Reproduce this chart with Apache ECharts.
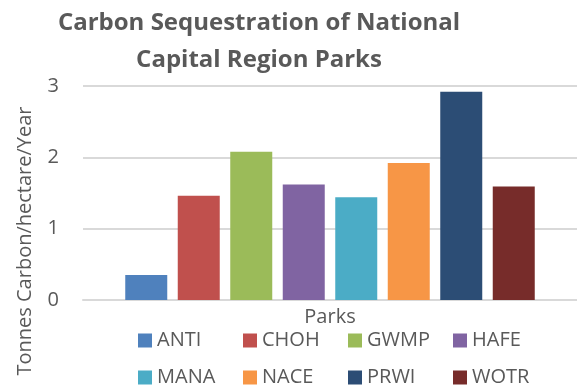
<!DOCTYPE html>
<html>
<head>
<meta charset="utf-8">
<script src="https://cdn.jsdelivr.net/npm/echarts@6/dist/echarts.min.js"></script>
<style>html,body{margin:0;padding:0;background:#fff;}#c{width:577px;height:385px;}</style>
</head>
<body>
<div id="c"></div>
<script>
const categories = ['Parks'];
const parks = ['ANTI', 'CHOH', 'GWMP', 'HAFE', 'MANA', 'NACE', 'PRWI', 'WOTR'];
const values = [0.35, 1.46, 2.08, 1.62, 1.44, 1.92, 2.92, 1.59];
const colors = ['#4f81bd', '#c0504d', '#9bbb59', '#8064a2', '#4bacc6', '#f79646', '#2c4d75', '#772c2a'];
const yTicks = [0, 1, 2, 3];
const titleLines = ['Carbon Sequestration of National', 'Capital Region Parks'];
const yTitle = 'Tonnes Carbon/hectare/Year';

const FONT = 'Open Sans';
const GRAY = '#595959';
const chart = echarts.init(document.getElementById('c'), null, {renderer: 'canvas'});
chart.setOption({
  animation: false,
  backgroundColor: '#fff',
  textStyle: {fontFamily: FONT},
  graphic: [
    {type: 'text', position: [259, 5], style: {text: titleLines.join('\n'), fontFamily: FONT, fontWeight: 'bold', fontSize: 24, lineHeight: 37, fill: GRAY, textAlign: 'center'}},
    {type: 'text', rotation: Math.PI / 2, position: [25, 241], style: {text: yTitle, fontFamily: FONT, fontSize: 20, fill: GRAY, textAlign: 'center', textVerticalAlign: 'middle'}}
  ],
  legend: {
    data: parks,
    left: 138, top: 330, width: 430, padding: 0,
    orient: 'horizontal',
    itemWidth: 14, itemHeight: 14, itemGap: 16,
    icon: 'rect',
    textStyle: {fontFamily: FONT, fontSize: 20, color: GRAY, width: 70, lineHeight: 21}
  },
  grid: {left: 83, right: 0, top: 86, bottom: 85, containLabel: false},
  xAxis: {
    type: 'category', data: categories,
    axisLine: {show: true, lineStyle: {color: '#d9d9d9', width: 2}},
    axisTick: {show: false},
    axisLabel: {fontFamily: FONT, fontSize: 20, color: GRAY, margin: 7}
  },
  yAxis: {
    type: 'value', min: 0, max: 3, interval: 1,
    axisLine: {show: false}, axisTick: {show: false},
    axisLabel: {fontFamily: FONT, fontSize: 20, color: GRAY, margin: 24,
      formatter: v => yTicks.includes(v) ? String(v) : ''},
    splitLine: {lineStyle: {color: '#d9d9d9', width: 2}}
  },
  series: parks.map((p, i) => ({
    name: p, type: 'bar', data: [values[i]],
    itemStyle: {color: colors[i]},
    barWidth: 42, barGap: '25%'
  }))
});
</script>
</body>
</html>
